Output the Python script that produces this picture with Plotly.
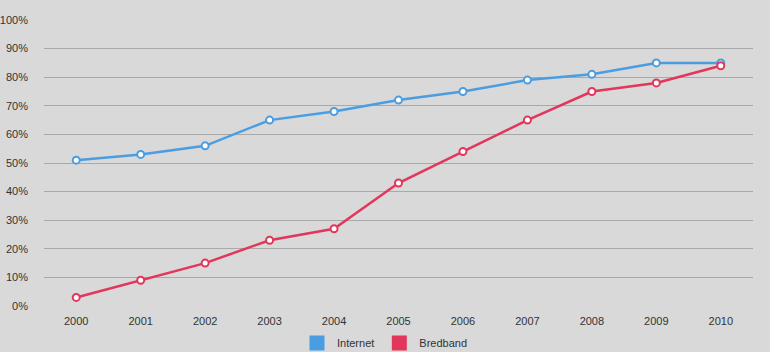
import plotly.graph_objects as go

years = ["2000", "2001", "2002", "2003", "2004", "2005", "2006", "2007", "2008", "2009", "2010"]
internet = [51, 53, 56, 65, 68, 72, 75, 79, 81, 85, 85]
bredband = [3, 9, 15, 23, 27, 43, 54, 65, 75, 78, 84]
series_names = ["Internet", "Bredband"]
colors = ["#4a9de0", "#e2365b"]

fig = go.Figure()
for name, vals, col in zip(series_names, [internet, bredband], colors):
    fig.add_trace(go.Scatter(
        x=years, y=vals, mode="lines+markers", name=name, showlegend=False,
        line=dict(color=col, width=2.5),
        marker=dict(symbol="circle", size=7, color="white", line=dict(color=col, width=2)),
    ))
    # legend swatch
    fig.add_trace(go.Scatter(
        x=[None], y=[None], mode="markers", name=name, showlegend=True,
        marker=dict(symbol="square", size=15, color=col),
    ))

fig.update_layout(
    width=770, height=352,
    margin=dict(l=44, r=17, t=20, b=46, autoexpand=False),
    paper_bgcolor="#d9d9d9", plot_bgcolor="#d9d9d9",
    font=dict(family="Liberation Sans, Arial, sans-serif", size=11, color="#333333"),
    legend=dict(orientation="h", x=0.5, xanchor="center", xref="container",
                y=-0.129, yanchor="middle", yref="paper",
                bgcolor="rgba(0,0,0,0)",
                font=dict(size=11, color="#333333"), itemwidth=30),
    xaxis=dict(type="category", range=[-0.5, 10.5], showgrid=False, zeroline=False,
               showline=False, ticks="", tickfont=dict(size=11, color="#333333"),
               ticklabelstandoff=7),
    yaxis=dict(range=[0, 100], dtick=10, ticksuffix="%", showgrid=True,
               gridcolor="#a9a9a9", gridwidth=1, zeroline=False, showline=False,
               ticks="", tickfont=dict(size=11, color="#333333"), ticklabelstandoff=15),
)
fig.write_html("out.html")
